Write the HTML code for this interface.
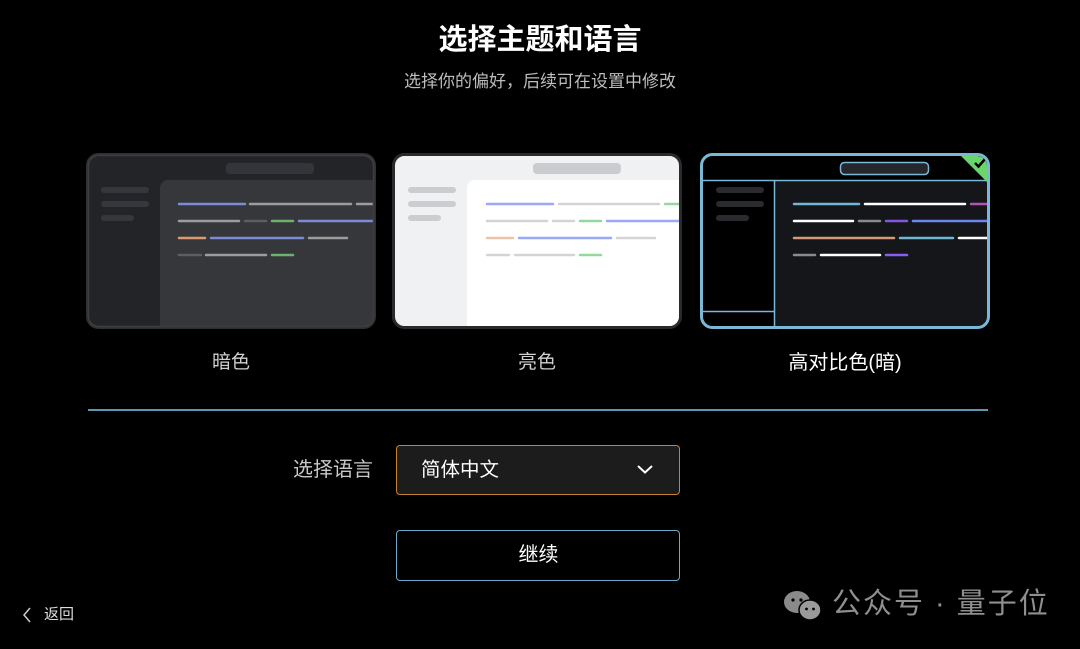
<!DOCTYPE html>
<html><head><meta charset="utf-8"><style>
body{margin:0;width:1080px;height:649px;background:#000;position:relative;overflow:hidden;font-family:"Liberation Sans","Noto Sans CJK SC",sans-serif;}
.a{position:absolute}
.t{color:#fff}
svg{position:absolute}
</style></head><body>
<div class="a t" style="left:0;width:1080px;top:21px;text-align:center;font-size:29px;font-weight:bold;line-height:38px">选择主题和语言</div>
<div class="a" style="left:0;width:1080px;top:70px;text-align:center;font-size:17px;color:#bdbdbd;line-height:24px">选择你的偏好，后续可在设置中修改</div>

<!-- dark card -->
<svg style="left:86px;top:153px" width="290" height="176" viewBox="0 0 290 176">
<defs><clipPath id="c1"><rect x="2" y="2" width="286" height="172" rx="10"/></clipPath></defs>
<rect x="1.5" y="1.5" width="287" height="173" rx="11" fill="#232428" stroke="#2f3034" stroke-width="3"/>
<g clip-path="url(#c1)" stroke-linecap="round" stroke-width="2.5">
<rect x="74" y="27" width="230" height="160" rx="8" fill="#36373b"/>
<rect x="140" y="10" width="88" height="11" rx="4" fill="#34353a" stroke="none"/>
<rect x="15" y="34" width="48" height="6" rx="3" fill="#36373c"/>
<rect x="15" y="48" width="48" height="6" rx="3" fill="#36373c"/>
<rect x="15" y="62" width="33" height="6" rx="3" fill="#36373c"/>
<line x1="93" y1="51" x2="159" y2="51" stroke="#7b8bd6"/><line x1="164" y1="51" x2="265" y2="51" stroke="#9c9c9c"/><line x1="271" y1="51" x2="295" y2="51" stroke="#9c9c9c"/>
<line x1="93" y1="68" x2="153" y2="68" stroke="#9c9c9c"/><line x1="159" y1="68" x2="180" y2="68" stroke="#5d5e62"/><line x1="186" y1="68" x2="207" y2="68" stroke="#6bb26e"/><line x1="213" y1="68" x2="295" y2="68" stroke="#7b8bd6"/>
<line x1="93" y1="85" x2="119" y2="85" stroke="#d99a70"/><line x1="125" y1="85" x2="217" y2="85" stroke="#7b8bd6"/><line x1="223" y1="85" x2="261" y2="85" stroke="#9c9c9c"/>
<line x1="93" y1="102" x2="115" y2="102" stroke="#5d5e62"/><line x1="120" y1="102" x2="180" y2="102" stroke="#9c9c9c"/><line x1="186" y1="102" x2="207" y2="102" stroke="#6bb26e"/>
</g>
<rect x="2.5" y="2.5" width="285" height="171" rx="10" fill="none" stroke="#3d3e42" stroke-width="1.5"/>
</svg>

<!-- light card -->
<svg style="left:392px;top:153px" width="290" height="176" viewBox="0 0 290 176">
<defs><clipPath id="c2"><rect x="3" y="3" width="284" height="170" rx="10"/></clipPath></defs>
<rect x="1.5" y="1.5" width="287" height="173" rx="11" fill="#f0f1f3" stroke="#2a2a2c" stroke-width="3"/>
<g clip-path="url(#c2)" stroke-linecap="round" stroke-width="2.5">
<rect x="75" y="27" width="230" height="160" rx="8" fill="#ffffff"/>
<rect x="141" y="10" width="88" height="11" rx="4" fill="#caccd0"/>
<rect x="16" y="34" width="48" height="6" rx="3" fill="#cbcdd1"/>
<rect x="16" y="48" width="48" height="6" rx="3" fill="#cbcdd1"/>
<rect x="16" y="62" width="33" height="6" rx="3" fill="#cbcdd1"/>
<line x1="95" y1="51" x2="161" y2="51" stroke="#9aa8f5"/><line x1="167" y1="51" x2="267" y2="51" stroke="#d4d4d6"/><line x1="273" y1="51" x2="295" y2="51" stroke="#93d99b"/>
<line x1="95" y1="68" x2="155" y2="68" stroke="#d4d4d6"/><line x1="161" y1="68" x2="182" y2="68" stroke="#d4d4d6"/><line x1="188" y1="68" x2="209" y2="68" stroke="#93d99b"/><line x1="215" y1="68" x2="295" y2="68" stroke="#9aa8f5"/>
<line x1="95" y1="85" x2="121" y2="85" stroke="#ebc4a8"/><line x1="127" y1="85" x2="219" y2="85" stroke="#9aa8f5"/><line x1="225" y1="85" x2="263" y2="85" stroke="#d4d4d6"/>
<line x1="95" y1="102" x2="117" y2="102" stroke="#d4d4d6"/><line x1="123" y1="102" x2="182" y2="102" stroke="#d4d4d6"/><line x1="188" y1="102" x2="209" y2="102" stroke="#93d99b"/>
</g>
</svg>

<!-- high contrast card -->
<svg style="left:700px;top:153px" width="290" height="176" viewBox="0 0 290 176">
<defs><clipPath id="c3"><rect x="3" y="3" width="284" height="170" rx="10"/></clipPath></defs>
<rect x="1.5" y="1.5" width="287" height="173" rx="11" fill="#000"/>
<g clip-path="url(#c3)" stroke-linecap="round" stroke-width="2.5">
<rect x="75" y="28" width="230" height="160" fill="#151619"/>
<line x1="0" y1="27.5" x2="290" y2="27.5" stroke="#7ab8d6" stroke-width="1.5" stroke-linecap="butt"/>
<line x1="74.5" y1="27" x2="74.5" y2="176" stroke="#7ab8d6" stroke-width="1.5" stroke-linecap="butt"/>
<line x1="0" y1="158.5" x2="75" y2="158.5" stroke="#7ab8d6" stroke-width="1.5" stroke-linecap="butt"/>
<rect x="140.5" y="9.5" width="88" height="12" rx="4" fill="#26272c" stroke="#7ab8d6" stroke-width="1.5"/>
<rect x="16" y="34" width="48" height="6" rx="3" fill="#2a2b2f" stroke="none"/>
<rect x="16" y="48" width="48" height="6" rx="3" fill="#2a2b2f" stroke="none"/>
<rect x="16" y="62" width="33" height="6" rx="3" fill="#2a2b2f" stroke="none"/>
<line x1="94" y1="51" x2="159" y2="51" stroke="#6fb7d4"/><line x1="165" y1="51" x2="265" y2="51" stroke="#ffffff"/><line x1="271" y1="51" x2="295" y2="51" stroke="#b352b3"/>
<line x1="94" y1="68" x2="153" y2="68" stroke="#ffffff"/><line x1="159" y1="68" x2="180" y2="68" stroke="#8a8a8c"/><line x1="186" y1="68" x2="207" y2="68" stroke="#8257e0"/><line x1="213" y1="68" x2="295" y2="68" stroke="#6a86f0"/>
<line x1="94" y1="85" x2="194" y2="85" stroke="#d49a78"/><line x1="200" y1="85" x2="253" y2="85" stroke="#6fb7d4"/><line x1="259" y1="85" x2="295" y2="85" stroke="#ffffff"/>
<line x1="94" y1="102" x2="115" y2="102" stroke="#8a8a8c"/><line x1="121" y1="102" x2="180" y2="102" stroke="#ffffff"/><line x1="186" y1="102" x2="207" y2="102" stroke="#8a5cf0"/>
<polygon points="258,0 292,0 292,34" fill="#6cd46c" stroke="none"/>
<path d="M275 10 L278.5 13.5 L285 6" fill="none" stroke="#000" stroke-width="2.5" stroke-linecap="butt"/>
</g>
<rect x="1.5" y="1.5" width="287" height="173" rx="11" fill="none" stroke="#7ab8d6" stroke-width="3"/>
</svg>

<div class="a" style="left:86px;width:290px;top:350px;text-align:center;font-size:19px;color:#d0d0d0;line-height:26px">暗色</div>
<div class="a" style="left:392px;width:290px;top:350px;text-align:center;font-size:19px;color:#d0d0d0;line-height:26px">亮色</div>
<div class="a t" style="left:700px;width:290px;top:350px;text-align:center;font-size:20px;line-height:26px">高对比色(暗)</div>

<div class="a" style="left:88px;top:409px;width:900px;height:1.5px;background:#5d96b0"></div>

<div class="a" style="left:270px;width:103px;top:457px;text-align:right;font-size:20px;color:#c8c8c8;line-height:26px">选择语言</div>
<div class="a" style="left:396px;top:445px;width:282px;height:48px;border:1.5px solid #c8822f;border-radius:4px;background:#1c1c1c"></div>
<div class="a t" style="left:421px;top:457px;font-size:19.5px;line-height:26px">简体中文</div>
<svg style="left:636px;top:463px" width="18" height="12"><path d="M2 3 L9 9.5 L16 3" fill="none" stroke="#fff" stroke-width="2"/></svg>

<div class="a" style="left:396px;top:530px;width:282px;height:49px;border:1.5px solid #6aaac8;border-radius:4px"></div>
<div class="a t" style="left:396px;width:285px;top:542px;text-align:center;font-size:20px;line-height:26px">继续</div>

<svg style="left:20px;top:606px" width="14" height="18"><path d="M10 2 L4 9 L10 16" fill="none" stroke="#ccc" stroke-width="1.5"/></svg>
<div class="a" style="left:44px;top:605px;font-size:15px;color:#ddd;line-height:20px">返回</div>

<svg style="left:782px;top:588px" width="44" height="36">
<ellipse cx="15" cy="14" rx="13" ry="11" fill="#8a8a8a"/>
<ellipse cx="28" cy="22" rx="11" ry="10" fill="#9a9a9a" stroke="#000" stroke-width="1.5"/>
<circle cx="11" cy="12" r="1.6" fill="#000"/><circle cx="19" cy="12" r="1.6" fill="#000"/>
<circle cx="24.5" cy="21" r="1.4" fill="#000"/><circle cx="31.5" cy="21" r="1.4" fill="#000"/>
</svg>
<div class="a" style="left:832px;top:587px;font-size:29px;color:#8f8f8f;line-height:34px;letter-spacing:2px">公众号 · 量子位</div>
</body></html>
